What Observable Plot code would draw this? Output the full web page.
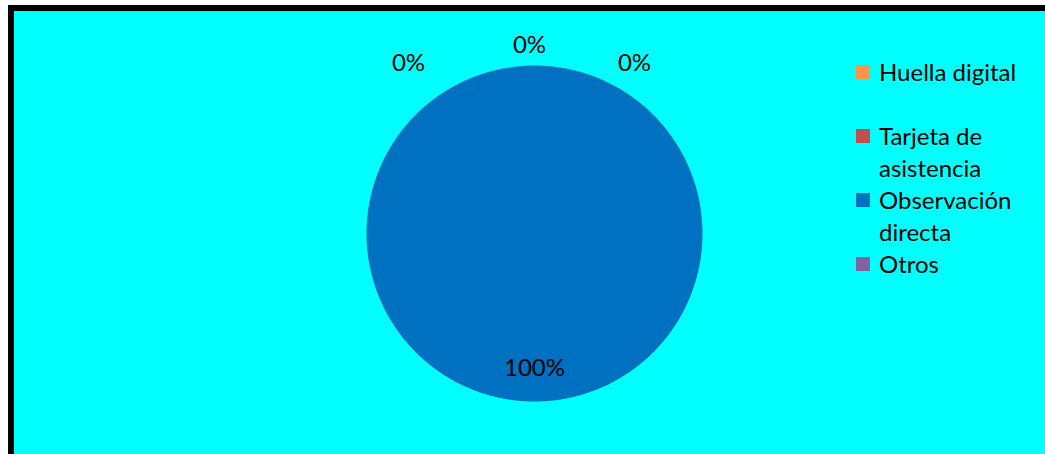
<!DOCTYPE html>
<html>
<head>
<meta charset="utf-8">
<script src="https://cdn.jsdelivr.net/npm/d3@7"></script>
<script src="https://cdn.jsdelivr.net/npm/@observablehq/plot@0.6"></script>
<style>
  html, body { margin: 0; padding: 0; background: #fff; overflow: hidden; }
  #wrap { position: relative; width: 1045px; height: 454px; overflow: hidden; }
  #frame { position: absolute; left: 8px; top: 5px; width: 1100px; height: 500px;
           background: #00FFFF; border-left: 6px solid #000; border-top: 6px solid #000; }
  #chart { position: absolute; left: 0; top: 0; }
  #legend { position: absolute; left: 856px; top: 56px; font-family: Lato, "Open Sans", sans-serif;
            font-size: 24px; color: #000; }
  .item { position: relative; height: 64px; }
  .sw { position: absolute; left: 0; top: 9px; width: 14px; height: 14px; }
  .lbl { position: absolute; left: 23px; top: 0; width: 155px; line-height: 32px; }
</style>
</head>
<body>
<div id="wrap">
  <div id="frame"></div>
  <div id="chart"></div>
  <div id="legend"></div>
</div>
<script>
// ---- data ----
const categories = ["Huella digital", "Tarjeta de asistencia", "Observación directa", "Otros"];
const values = [0, 0, 100, 0];
const colors = ["#F79646", "#C0504D", "#0070C0", "#8064A2"];

// ---- layout ----
const W = 1045, H = 454;
const cx = 534, cy = 233, R = 168;
const zeroNudge = [[-126, 18], [-5, 0], null, [100, 18]];

const total = d3.sum(values);
const arcs = d3.pie().sort(null).value(d => d)(values);

// polygon vertices for each slice
const poly = [];
arcs.forEach((a, i) => {
  const span = a.endAngle - a.startAngle;
  const n = Math.max(2, Math.ceil(span / 0.01));
  if (span < 2 * Math.PI - 1e-9) poly.push({cat: categories[i], x: cx, y: cy});
  for (let k = 0; k <= n; k++) {
    const t = a.startAngle + span * k / n;
    poly.push({cat: categories[i], x: cx + R * Math.sin(t), y: cy - R * Math.cos(t)});
  }
});

// labels
const labels = arcs.map((a, i) => {
  const pct = Math.round(values[i] / total * 100) + "%";
  const mid = (a.startAngle + a.endAngle) / 2;
  if (values[i] === 0) {
    const r = R + 20;
    const [dx, dy] = zeroNudge[i];
    return {text: pct, x: cx + r * Math.sin(mid) + dx, y: cy - r * Math.cos(mid) + dy};
  }
  const full = values[i] / total >= 0.999;
  const r = full ? R * 0.8 : R * 0.6;
  const m = full ? Math.PI : mid;
  return {text: pct, x: cx + r * Math.sin(m), y: cy - r * Math.cos(m)};
});

const plot = Plot.plot({
  width: W, height: H,
  margin: 0,
  x: {domain: [0, W], range: [0, W], axis: null},
  y: {domain: [0, H], range: [0, H], axis: null},
  color: {domain: categories, range: colors},
  style: {background: "transparent", overflow: "visible"},
  marks: [
    Plot.line(poly, {x: "x", y: "y", z: "cat", fill: "cat", stroke: null, curve: "linear"}),
    Plot.text(labels, {x: "x", y: "y", text: "text", fontSize: 24, fill: "#000",
      fontFamily: "Lato, 'Open Sans', sans-serif"})
  ]
});
document.getElementById("chart").appendChild(plot);

// legend
const leg = document.getElementById("legend");
categories.forEach((c, i) => {
  const item = document.createElement("div");
  item.className = "item";
  const sw = document.createElement("div");
  sw.className = "sw";
  sw.style.background = colors[i];
  const lb = document.createElement("div");
  lb.className = "lbl";
  lb.textContent = c;
  item.appendChild(sw); item.appendChild(lb);
  leg.appendChild(item);
});
</script>
</body>
</html>
